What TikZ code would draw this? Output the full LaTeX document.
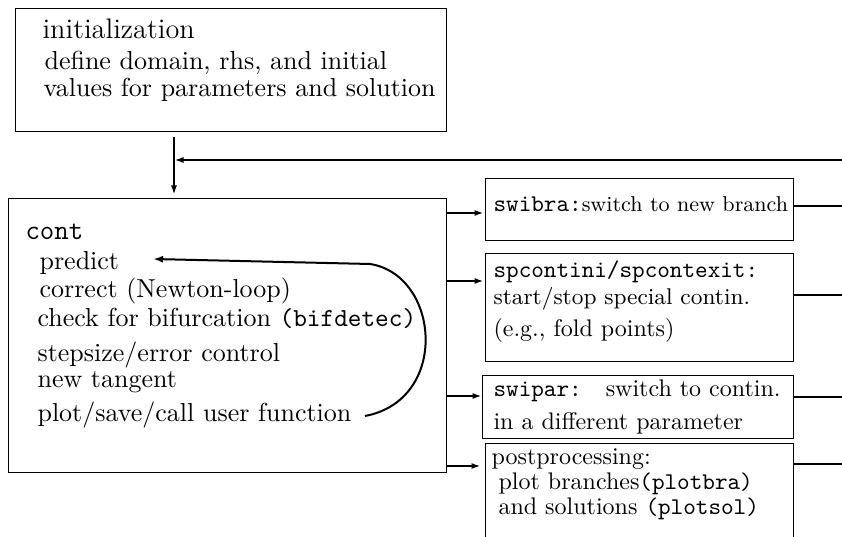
\documentclass[tikz,border=0pt]{standalone}
\usetikzlibrary{arrows.meta}
\begin{document}
\begin{tikzpicture}[x=0.4pt,y=-0.4pt, line width=0.45pt,
  box/.style={draw, rectangle, inner sep=0pt, anchor=north west},
  lt/.style={anchor=base west, inner sep=0pt, font=\fontsize{10.4}{12}\selectfont},
  rt/.style={anchor=base west, inner sep=0pt, font=\fontsize{9.6}{11}\selectfont},
  arr/.style={-{Latex[length=3.4pt,width=2.4pt]}},
  looparr/.style={line width=0.8pt, -{Latex[length=4pt,width=2.8pt]}}]
\useasboundingbox (0,0) rectangle (842,537);
\clip (0,0) rectangle (842,537);
% boxes
\node[box, minimum width=172.4pt, minimum height=49.2pt] (init) at (15,8) {};
\node[box, minimum width=175.2pt, minimum height=109.6pt] (cont) at (8,198) {};
\node[box, minimum width=123.2pt, minimum height=24.8pt] (swibra) at (485,178) {};
\node[box, minimum width=123.2pt, minimum height=43.2pt] (spcont) at (485,253) {};
\node[box, minimum width=124.4pt, minimum height=25.2pt] (swipar) at (482,375) {};
\node[box, minimum width=123.2pt, minimum height=46.8pt] (post) at (485,443) {};
% init text
\node[lt, font=\fontsize{11.3}{13}\selectfont] (t1) at (42,39) {initialization};
\node[lt] (t2) at (44,70) {define domain, rhs, and initial};
\node[lt] (t3) at (43,97) {values for parameters and solution};
% cont text
\node[lt, font=\fontsize{11.2}{13}\selectfont] (c0) at (25,240) {\texttt{cont}};
\node[lt] (c1) at (39,270) {predict};
\node[lt] (c2) at (39,298) {correct (Newton-loop)};
\node[lt] (c3) at (37,327) {check for bifurcation \texttt{(bifdetec)}};
\node[lt] (c4) at (37,362) {stepsize/error control};
\node[lt] (c5) at (37,388) {new tangent};
\node[lt] (c6) at (37,422) {plot/save/call user function};
% right boxes text
\node[rt] (s1) at (493,212) {\texttt{swibra:}{\fontsize{8.6}{10}\selectfont switch to new branch}};
\node[rt] (p1) at (493,278) {\texttt{spcontini/spcontexit:}};
\node[rt, font=\fontsize{9.1}{11}\selectfont] (p2) at (493,305) {start/stop special contin.};
\node[rt] (p3) at (493,337) {(e.g., fold points)};
\node[rt] (w1) at (493,397) {\texttt{swipar:}\quad switch to contin.};
\node[rt] (w2) at (493,430) {in a different parameter};
\node[rt] (q1) at (491,465) {postprocessing:};
\node[rt] (q2) at (498,490) {plot branches\texttt{(plotbra)}};
\node[rt] (q3) at (498,515) {and solutions \texttt{(plotsol)}};
% coordinates
\coordinate (edge) at (842,0);
\coordinate (join) at (174,160);
\coordinate (loopstart) at (365,416);
\coordinate (loopturn) at (370,264);
\coordinate (loopend) at (153,259);
% connectors
\draw[arr] ([yshift=-2pt]init.south -| join) -- ([yshift=1.6pt]cont.north -| join);
\draw[arr, shorten >=0.4pt] (edge |- join) -- (join);
\draw[arr, shorten >=0.8pt] (cont.east |- 0,213) -- (swibra.west |- 0,213);
\draw[arr, shorten >=0.8pt] (cont.east |- 0,281) -- (spcont.west |- 0,281);
\draw[arr, shorten >=0.4pt] (cont.east |- 0,396) -- (swipar.west |- 0,396);
\draw[arr, shorten >=2pt] (cont.east |- 0,466) -- (post.west |- 0,466);
\draw (swibra.east |- 0,206) -- (edge |- 0,206);
\draw (spcont.east |- 0,295) -- (edge |- 0,295);
\draw (swipar.east |- 0,397) -- (edge |- 0,397);
\draw (post.east |- 0,464) -- (edge |- 0,464);
% loop arrow
\draw[looparr] (loopstart) .. controls (450,400) and (440,275) .. (loopturn) -- (loopend);
\end{tikzpicture}
\end{document}
